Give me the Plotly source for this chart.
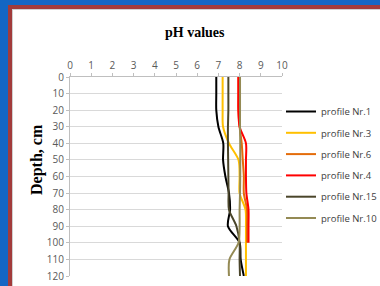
import plotly.graph_objects as go

depth = [0, 10, 20, 30, 40, 50, 60, 70, 80, 90, 100, 110, 120]
depth_short = [0, 10, 20, 30, 40, 50, 60, 70, 80, 90, 100]

ph_nr1 = [6.9, 6.9, 6.9, 7.0, 7.23, 7.22, 7.33, 7.5, 7.55, 7.45, 8.0, 8.05, 8.2]
ph_nr3 = [7.2, 7.2, 7.2, 7.22, 7.5, 7.95, 8.0, 8.0, 8.28, 8.3, 8.3, 8.3, 8.3]
ph_nr6 = [7.95, 7.95, 7.95, 8.0, 8.1, 8.15, 8.2, 8.2, 8.35, 8.35, 8.35]
ph_nr4 = [7.94, 7.94, 7.94, 8.0, 8.3, 8.3, 8.3, 8.32, 8.42, 8.42, 8.42]
ph_nr15 = [7.47, 7.47, 7.47, 7.45, 7.45, 7.46, 7.47, 7.48, 7.5, 7.85, 8.0, 8.0, 8.02]
ph_nr10 = [8.02, 8.02, 8.02, 8.02, 8.03, 8.03, 8.03, 8.02, 8.0, 8.0, 7.95, 7.52, 7.5]

x_ticks = list(range(0, 11))
y_ticks = list(range(0, 121, 10))

series = [
    ("profile Nr.1", ph_nr1, depth, "#000000"),
    ("profile Nr.3", ph_nr3, depth, "#ffc000"),
    ("profile Nr.6", ph_nr6, depth_short, "#e46c0a"),
    ("profile Nr.4", ph_nr4, depth_short, "#ff0000"),
    ("profile Nr.15", ph_nr15, depth, "#4a452a"),
    ("profile Nr.10", ph_nr10, depth, "#948a54"),
]

fig = go.Figure()
for i, (name, xs, ys, col) in enumerate(series):
    fig.add_trace(go.Scatter(
        x=xs, y=ys, name=name, mode="lines",
        line=dict(color=col, width=2, shape="spline", smoothing=0.8),
        legendgroup=str(i),
    ))

# pixel -> paper helpers (plot area: x 70..282, y 77..276)
L, R, T, B = 70, 282, 77, 276
def px(x):
    return (x - L) / (R - L)
def py(y):
    return (B - y) / (B - T)

shapes = [
    dict(type="rect", xref="paper", yref="paper", x0=px(8), x1=px(700), y0=py(5), y1=py(700),
         fillcolor="#a23b3b", line=dict(width=0), layer="below"),
    dict(type="rect", xref="paper", yref="paper", x0=px(12), x1=px(700), y0=py(9), y1=py(700),
         fillcolor="#d0d0d0", line=dict(width=0), layer="below"),
    dict(type="rect", xref="paper", yref="paper", x0=px(13), x1=px(700), y0=py(10), y1=py(700),
         fillcolor="#ffffff", line=dict(width=0), layer="below"),
]

fig.update_layout(
    width=380, height=286,
    margin=dict(l=L, r=380 - R, t=T, b=286 - B, autoexpand=False),
    paper_bgcolor="#1466c4",
    plot_bgcolor="rgba(0,0,0,0)",
    shapes=shapes,
    showlegend=True,
    legend=dict(
        x=px(281), y=py(97), xanchor="left", yanchor="top",
        font=dict(family="Liberation Sans Narrow, Open Sans, sans-serif", size=9.5, color="#404040"),
        bgcolor="rgba(0,0,0,0)", traceorder="grouped", tracegroupgap=2.3,
        itemwidth=30,
    ),
    annotations=[
        dict(text="<b>pH values</b>", xref="paper", yref="paper", x=px(195), y=py(33),
             xanchor="center", yanchor="middle", showarrow=False,
             font=dict(family="Liberation Serif, Times New Roman, serif", size=14, color="#000000")),
        dict(text="<b>Depth, cm</b>", xref="paper", yref="paper", x=px(37), y=py(160),
             xanchor="center", yanchor="middle", showarrow=False, textangle=-90,
             font=dict(family="Liberation Serif, Times New Roman, serif", size=16, color="#000000")),
    ],
    xaxis=dict(
        range=[0, 10], side="top", tickvals=x_ticks, ticktext=[str(v) for v in x_ticks],
        showgrid=False, zeroline=False, showline=True, linecolor="#bfbfbf", linewidth=1,
        ticks="outside", ticklen=3, tickcolor="#bfbfbf", automargin=False,
        tickfont=dict(family="Liberation Sans Narrow, Open Sans, sans-serif", size=10, color="#595959"),
        fixedrange=True,
    ),
    yaxis=dict(
        range=[120, 0], tickvals=y_ticks, ticktext=[str(v) for v in y_ticks],
        showgrid=True, gridcolor="#d9d9d9", gridwidth=1, zeroline=False,
        showline=True, linecolor="#bfbfbf", linewidth=1, automargin=False,
        ticks="outside", ticklen=3, tickcolor="#bfbfbf",
        tickfont=dict(family="Liberation Sans Narrow, Open Sans, sans-serif", size=10, color="#595959"),
        fixedrange=True,
    ),
)

fig.write_html(
    "out.html",
    config={"displayModeBar": False},
    post_script="document.body.style.margin='0';document.body.style.overflow='hidden';",
)
